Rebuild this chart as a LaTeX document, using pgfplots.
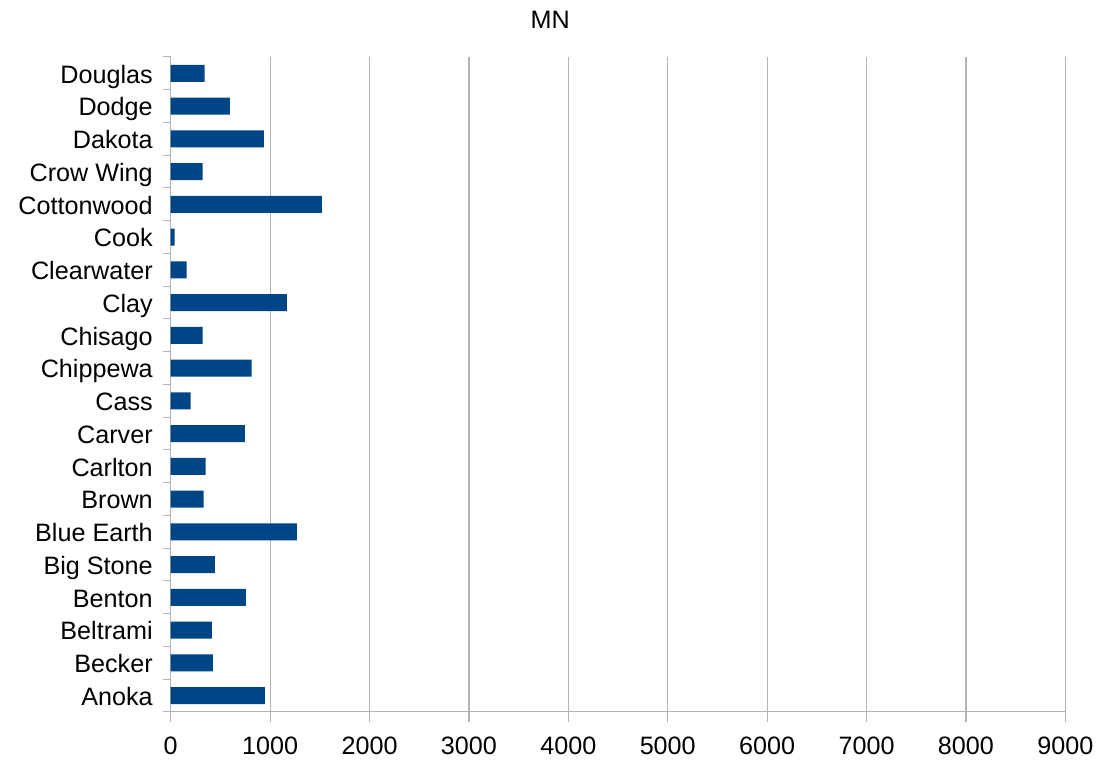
\documentclass[border=0pt]{standalone}
\usepackage{pgfplots}
\pgfplotsset{compat=1.18}
\usepackage{fontspec}
\setmainfont{Liberation Sans}
\definecolor{barblue}{HTML}{004586}
\definecolor{gridgray}{HTML}{B3B3B3}

\begin{document}
\begin{tikzpicture}
\begin{axis}[
  name=ax,
  scale only axis,
  width=448pt, height=328pt,
  xbar,
  bar width=8.5pt,
  xmin=0, xmax=9000,
  ymin=-0.5, ymax=19.5,
  xtick={0,1000,...,9000},
  ytick={0,...,19},
  yticklabels={Anoka,Becker,Beltrami,Benton,Big Stone,Blue Earth,Brown,Carlton,Carver,Cass,
    Chippewa,Chisago,Clay,Clearwater,Cook,Cottonwood,Crow Wing,Dakota,Dodge,Douglas},
  minor ytick={-0.5,0.5,...,19.5},
  xmajorgrids=true,
  grid style={gridgray, line width=0.6pt},
  axis x line*=bottom,
  axis y line*=left,
  axis line style={gridgray, line width=0.6pt},
  x tick style={gridgray, line width=0.6pt},
  major tick length=5pt,
  tick align=outside,
  ytick style={draw=none},
  minor tick length=4pt,
  minor y tick style={draw=gridgray, line width=0.6pt},
  scaled x ticks=false,
  /pgf/number format/assume math mode=true,
  tick label style={font=\fontsize{12.6}{15}\selectfont, black},
  yticklabel style={xshift=-0.5pt, yshift=-1.5pt, text height=1.6ex, text depth=0.3ex},
  xticklabel style={yshift=-4pt, /pgf/number format/.cd, fixed, 1000 sep={}},
  title={MN},
  title style={font=\fontsize{12.6}{15}\selectfont, xshift=-34pt, yshift=4.5pt},
]
\addplot[fill=barblue, draw=none] coordinates {
  (946,0) (423,1) (413,2) (755,3) (443,4) (1268,5) (332,6) (352,7) (745,8) (201,9)
  (815,10) (322,11) (1168,12) (161,13) (40,14) (1520,15) (322,16) (936,17) (594,18) (342,19)
};
\end{axis}
\path[use as bounding box] ([xshift=-85.5pt, yshift=-25.5pt]ax.south west)
  rectangle ([xshift=16.5pt, yshift=28.5pt]ax.north east);
\end{tikzpicture}
\end{document}
